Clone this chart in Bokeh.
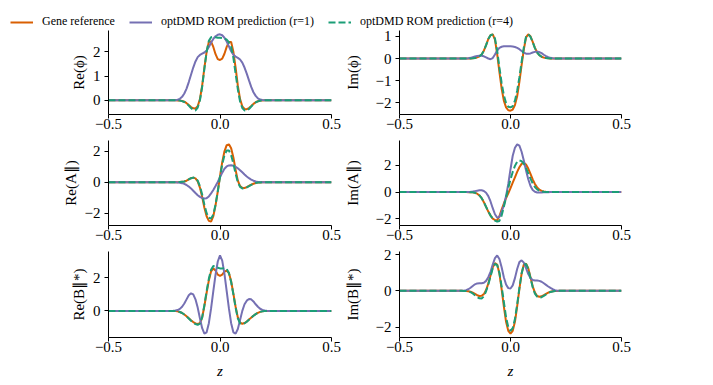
import numpy as np
from bokeh.plotting import figure
from bokeh.layouts import column, row
from bokeh.models import Range1d, FixedTicker, Legend, LegendItem
from bokeh.embed import file_html
from bokeh.resources import INLINE

# z grid: -0.22 ... 0.22 in steps of 0.01, plus the domain ends
z_core = [round(-0.22 + 0.01 * i, 2) for i in range(45)]
z = [-0.5] + z_core + [0.5]

# ---- Re(phi)
re_phi_gene = [0, 0, 0, -0.005, -0.01, -0.03, -0.06, -0.12, -0.2, -0.28, -0.33, -0.34, -0.25, 0.05, 0.6, 1.35, 2.0, 2.4, 2.42, 2.2, 1.9, 1.7,
               1.66,
               1.72, 1.92, 2.2, 2.4, 2.4, 2.0, 1.35, 0.6, 0.05, -0.25, -0.36, -0.37, -0.32, -0.24, -0.15, -0.08, -0.04, -0.015, -0.005, 0, 0, 0]
re_phi_r1 = [0, 0, 0, 0.02, 0.06, 0.14, 0.28, 0.48, 0.75, 1.05, 1.35, 1.6, 1.78, 1.87, 1.92, 1.97, 2.05, 2.2, 2.38, 2.53, 2.64, 2.7,
             2.72,
             2.68, 2.58, 2.42, 2.22, 2.02, 1.88, 1.8, 1.75, 1.68, 1.55, 1.35, 1.1, 0.82, 0.55, 0.33, 0.18, 0.08, 0.03, 0.01, 0, 0, 0]
re_phi_r4 = [0, 0, 0, -0.005, -0.015, -0.035, -0.07, -0.13, -0.22, -0.32, -0.4, -0.42, -0.3, 0.0, 0.55, 1.3, 2.0, 2.45, 2.6, 2.62, 2.6, 2.58,
             2.58,
             2.57, 2.55, 2.5, 2.4, 2.2, 1.75, 1.1, 0.45, -0.05, -0.32, -0.42, -0.43, -0.36, -0.26, -0.16, -0.09, -0.045, -0.02, -0.005, 0, 0, 0]

# ---- Im(phi)
im_phi_gene = [0, 0, 0, 0.003, 0.005, 0.01, 0.02, 0.05, 0.1, 0.18, 0.35, 0.6, 0.88, 1.05, 1.09, 0.85, 0.2, -0.6, -1.35, -1.9, -2.2, -2.33,
               -2.35,
               -2.3, -2.1, -1.7, -1.05, -0.3, 0.4, 0.95, 1.09, 1.0, 0.75, 0.48, 0.28, 0.15, 0.08, 0.04, 0.02, 0.01, 0.005, 0.003, 0, 0, 0]
im_phi_r1 = [0, 0.003, 0.005, 0.01, 0.03, 0.06, 0.09, 0.11, 0.12, 0.12, 0.1, 0.05, 0.0, -0.03, 0.02, 0.18, 0.36, 0.48, 0.53, 0.55, 0.55, 0.55,
             0.55,
             0.54, 0.52, 0.48, 0.42, 0.34, 0.27, 0.22, 0.21, 0.23, 0.27, 0.3, 0.31, 0.29, 0.24, 0.17, 0.11, 0.06, 0.03, 0.01, 0.005, 0, 0]
im_phi_r4 = [0, 0, 0, 0.003, 0.005, 0.01, 0.02, 0.05, 0.1, 0.18, 0.35, 0.6, 0.88, 1.05, 1.08, 0.9, 0.35, -0.4, -1.1, -1.65, -2.0, -2.17,
             -2.2,
             -2.15, -1.9, -1.45, -0.85, -0.15, 0.5, 0.98, 1.08, 0.98, 0.74, 0.47, 0.27, 0.15, 0.08, 0.04, 0.02, 0.01, 0.005, 0.003, 0, 0, 0]

# ---- Re(A_par)
re_a_gene = [0, 0, 0.003, 0.005, 0.01, 0.03, 0.05, 0.1, 0.18, 0.26, 0.3, 0.25, 0.05, -0.35, -0.95, -1.65, -2.2, -2.5, -2.55, -2.2, -1.5, -0.6,
             0.4,
             1.3, 2.0, 2.4, 2.45, 2.2, 1.6, 0.8, 0.1, -0.25, -0.36, -0.37, -0.32, -0.24, -0.16, -0.1, -0.05, -0.02, -0.01, -0.005, 0, 0, 0]
re_a_r1 = [0, -0.003, -0.005, -0.01, -0.03, -0.06, -0.11, -0.18, -0.28, -0.4, -0.55, -0.7, -0.84, -0.95, -1.02, -1.05, -1.03, -0.92, -0.72, -0.5, -0.25, 0.02,
           0.32,
           0.62, 0.87, 1.02, 1.09, 1.1, 1.07, 1.0, 0.9, 0.78, 0.64, 0.5, 0.37, 0.26, 0.17, 0.1, 0.05, 0.02, 0.01, 0.005, 0.003, 0, 0]
re_a_r4 = [0, 0, 0.003, 0.005, 0.01, 0.03, 0.05, 0.1, 0.18, 0.26, 0.3, 0.27, 0.1, -0.25, -0.8, -1.45, -2.0, -2.3, -2.35, -2.1, -1.45, -0.6,
           0.35,
           1.15, 1.75, 2.05, 2.05, 1.75, 1.2, 0.55, 0.0, -0.3, -0.4, -0.4, -0.34, -0.26, -0.17, -0.1, -0.05, -0.02, -0.01, -0.005, 0, 0, 0]

# ---- Im(A_par)
im_a_gene = [0, 0, -0.003, -0.005, -0.01, -0.02, -0.06, -0.12, -0.25, -0.45, -0.75, -1.1, -1.45, -1.75, -1.97, -2.08, -2.1, -1.8, -1.3, -0.85, -0.45, -0.1,
             0.3,
             0.7, 1.1, 1.5, 1.85, 2.1, 2.18, 2.05, 1.75, 1.35, 0.95, 0.6, 0.35, 0.18, 0.09, 0.04, 0.02, 0.01, 0.005, 0.003, 0, 0, 0]
im_a_r1 = [0, 0, 0.005, 0.01, 0.02, 0.04, 0.07, 0.1, 0.13, 0.13, 0.08, -0.05, -0.3, -0.7, -1.2, -1.65, -1.9, -1.85, -1.45, -1.0, -0.3, 0.6,
           1.7,
           2.7, 3.3, 3.55, 3.45, 3.0, 2.35, 1.6, 0.95, 0.45, 0.15, 0.02, -0.03, -0.04, -0.03, -0.02, -0.01, -0.005, 0, 0, 0, 0, 0]
im_a_r4 = [0, 0, -0.003, -0.005, -0.01, -0.02, -0.06, -0.12, -0.25, -0.45, -0.75, -1.1, -1.45, -1.75, -1.97, -2.12, -2.2, -2.15, -1.75, -1.1, -0.4, 0.3,
           0.95,
           1.5, 1.95, 2.25, 2.35, 2.3, 2.1, 1.8, 1.4, 1.0, 0.65, 0.38, 0.2, 0.1, 0.05, 0.02, 0.01, 0.005, 0, 0, 0, 0, 0]

# ---- Re(B_par*)
re_b_gene = [0, -0.003, -0.01, -0.03, -0.07, -0.13, -0.22, -0.33, -0.45, -0.57, -0.68, -0.76, -0.8, -0.75, -0.4, 0.3, 1.1, 1.85, 2.4, 2.58, 2.45, 2.2,
             2.12,
             2.2, 2.38, 2.45, 2.3, 1.8, 1.05, 0.25, -0.4, -0.72, -0.78, -0.74, -0.65, -0.53, -0.41, -0.3, -0.2, -0.12, -0.06, -0.03, -0.01, -0.003, 0]
re_b_r1 = [0, 0.005, 0.02, 0.05, 0.12, 0.25, 0.45, 0.7, 0.95, 1.07, 1.0, 0.7, 0.2, -0.45, -1.05, -1.38, -1.3, -0.75, 0.15, 1.2, 2.2, 3.0,
           3.37,
           3.05, 2.25, 1.2, 0.15, -0.75, -1.3, -1.38, -1.1, -0.55, 0.0, 0.4, 0.62, 0.72, 0.7, 0.57, 0.4, 0.25, 0.13, 0.06, 0.02, 0.005, 0]
re_b_r4 = [0, -0.003, -0.01, -0.03, -0.07, -0.13, -0.22, -0.33, -0.46, -0.6, -0.72, -0.8, -0.85, -0.78, -0.4, 0.35, 1.2, 1.95, 2.5, 2.72, 2.7, 2.62,
           2.58,
           2.58, 2.6, 2.55, 2.3, 1.75, 1.0, 0.2, -0.45, -0.75, -0.8, -0.75, -0.66, -0.54, -0.42, -0.3, -0.2, -0.12, -0.06, -0.03, -0.01, -0.003, 0]

# ---- Im(B_par*)
im_b_gene = [0, -0.005, -0.01, -0.02, -0.05, -0.1, -0.17, -0.24, -0.28, -0.27, -0.18, 0.05, 0.4, 0.85, 1.3, 1.52, 1.45, 0.95, 0.1, -0.85, -1.7, -2.2,
             -2.35,
             -2.2, -1.7, -0.85, 0.1, 0.95, 1.45, 1.5, 1.25, 0.75, 0.25, -0.1, -0.28, -0.32, -0.3, -0.24, -0.17, -0.1, -0.05, -0.02, -0.01, -0.005, 0]
im_b_r1 = [0, 0.01, 0.04, 0.09, 0.17, 0.27, 0.36, 0.41, 0.42, 0.42, 0.45, 0.55, 0.75, 1.05, 1.45, 1.8, 1.95, 1.75, 1.3, 0.75, 0.35, 0.15,
           0.13,
           0.3, 0.7, 1.2, 1.58, 1.68, 1.55, 1.25, 0.92, 0.7, 0.6, 0.57, 0.57, 0.55, 0.5, 0.42, 0.33, 0.24, 0.16, 0.09, 0.04, 0.01, 0]
im_b_r4 = [0, -0.005, -0.01, -0.03, -0.07, -0.14, -0.24, -0.34, -0.41, -0.42, -0.3, -0.02, 0.35, 0.8, 1.25, 1.48, 1.42, 1.0, 0.25, -0.6, -1.45, -2.0,
           -2.2,
           -2.05, -1.55, -0.75, 0.15, 0.95, 1.42, 1.48, 1.2, 0.7, 0.2, -0.15, -0.32, -0.37, -0.35, -0.28, -0.2, -0.12, -0.06, -0.03, -0.01, -0.005, 0]

x_ticks = [-0.5, 0.0, 0.5]
x_tick_labels = ["\u22120.5", "0.0", "0.5"]

ylabels = ["Re(\u03d5)", "Im(\u03d5)", "Re(A\u2225)", "Im(A\u2225)", "Re(B\u2225*)", "Im(B\u2225*)"]
yticks = [[0, 1, 2], [-2, -1, 0, 1], [-2, 0, 2], [-2, 0, 2], [0, 2], [-2, 0, 2]]

legend_labels = ["Gene reference", "optDMD ROM prediction (r=1)", "optDMD ROM prediction (r=4)"]
C_GENE, C_R1, C_R4 = "#d95f02", "#7570b3", "#1b9e77"
FONT = "Liberation Serif"

panels = [
    (re_phi_gene, re_phi_r1, re_phi_r4),
    (im_phi_gene, im_phi_r1, im_phi_r4),
    (re_a_gene, re_a_r1, re_a_r4),
    (im_a_gene, im_a_r1, im_a_r4),
    (re_b_gene, re_b_r1, re_b_r4),
    (im_b_gene, im_b_r1, im_b_r4),
]

for s in panels:
    for arr in s:
        assert len(arr) == 45, len(arr)

# layout: (top border, frame height, bottom border) per row
row_geom = [(1, 84, 22), (4, 85, 21), (5, 86, 47)]
# (left border, frame width, right border, y-label standoff) per column
col_geom = [(108, 223, 10, 3), (57, 223, 20, 12)]


def fmt(v):
    return ("%g" % v).replace("-", "\u2212")


def make_panel(i):
    r, c = divmod(i, 2)
    tb, fh, bb = row_geom[r]
    lb, fw, rb, ylab_standoff = col_geom[c]
    gene, r1, r4 = panels[i]
    allv = gene + r1 + r4
    lo, hi = min(allv), max(allv)
    pad = 0.05 * (hi - lo)
    p = figure(width=lb + fw + rb, height=tb + fh + bb,
               x_range=Range1d(-0.5, 0.5), y_range=Range1d(lo - pad, hi + pad),
               output_backend="svg", toolbar_location=None,
               min_border_left=lb, min_border_right=rb,
               min_border_top=tb, min_border_bottom=bb)
    p.outline_line_color = None
    p.xgrid.visible = False
    p.ygrid.visible = False
    p.background_fill_color = "white"
    p.border_fill_color = "white"

    p.line(z, [0] + gene + [0], color=C_GENE, line_width=2)
    p.line(z, [0] + r1 + [0], color=C_R1, line_width=2)
    p.line(z, [0] + r4 + [0], color=C_R4, line_width=2, line_dash="7 3")

    p.xaxis.ticker = FixedTicker(ticks=x_ticks)
    p.xaxis.major_label_overrides = {t: l for t, l in zip(x_ticks, x_tick_labels)}
    p.yaxis.ticker = FixedTicker(ticks=yticks[i])
    p.yaxis.major_label_overrides = {t: fmt(t) for t in yticks[i]}
    p.yaxis.axis_label = ylabels[i]
    for ax in (p.xaxis[0], p.yaxis[0]):
        ax.axis_line_color = "black"
        ax.axis_line_width = 1
        ax.major_tick_line_color = "black"
        ax.major_tick_line_width = 1
        ax.major_tick_in = 0
        ax.major_tick_out = 4
        ax.minor_tick_line_color = None
        ax.major_label_text_font = FONT
        ax.major_label_text_font_size = "15px"
        ax.major_label_text_color = "black"
        ax.axis_label_text_font = FONT
        ax.axis_label_text_font_size = "15px"
        ax.axis_label_text_font_style = "normal"
        ax.axis_label_text_color = "black"
    p.xaxis.major_label_standoff = 0
    p.yaxis.major_label_standoff = 4
    p.yaxis.axis_label_standoff = ylab_standoff
    if r == 2:
        p.xaxis.axis_label = "z"
        p.xaxis.axis_label_text_font_style = "italic"
        p.xaxis.axis_label_standoff = 8
    return p


figs = [make_panel(i) for i in range(6)]

# legend strip (its lines lie outside the strip's visible range)
lf = figure(width=641, height=29, x_range=Range1d(5, 6), y_range=Range1d(5, 6),
            output_backend="svg", toolbar_location=None,
            min_border=0, min_border_left=10, min_border_right=0,
            min_border_top=0, min_border_bottom=0)
lf.axis.visible = False
lf.xgrid.visible = False
lf.ygrid.visible = False
lf.outline_line_color = None
rg = lf.line(z, [0] + re_phi_gene + [0], color=C_GENE, line_width=2)
rr1 = lf.line(z, [0] + re_phi_r1 + [0], color=C_R1, line_width=2)
rr4 = lf.line(z, [0] + re_phi_r4 + [0], color=C_R4, line_width=2, line_dash="7 3")
legend = Legend(items=[LegendItem(label=legend_labels[0], renderers=[rg]),
                       LegendItem(label=legend_labels[1], renderers=[rr1]),
                       LegendItem(label=legend_labels[2], renderers=[rr4])],
                orientation="horizontal", location="bottom_left",
                glyph_width=23, glyph_height=14, label_standoff=9, spacing=14,
                padding=0, margin=0, border_line_color=None, background_fill_alpha=0,
                label_text_font=FONT, label_text_font_size="12px", label_height=14,
                label_text_color="black")
lf.add_layout(legend)

root = column(lf, row(figs[0], figs[1]), row(figs[2], figs[3]), row(figs[4], figs[5]))
open("out.html", "w").write(file_html(root, INLINE))
